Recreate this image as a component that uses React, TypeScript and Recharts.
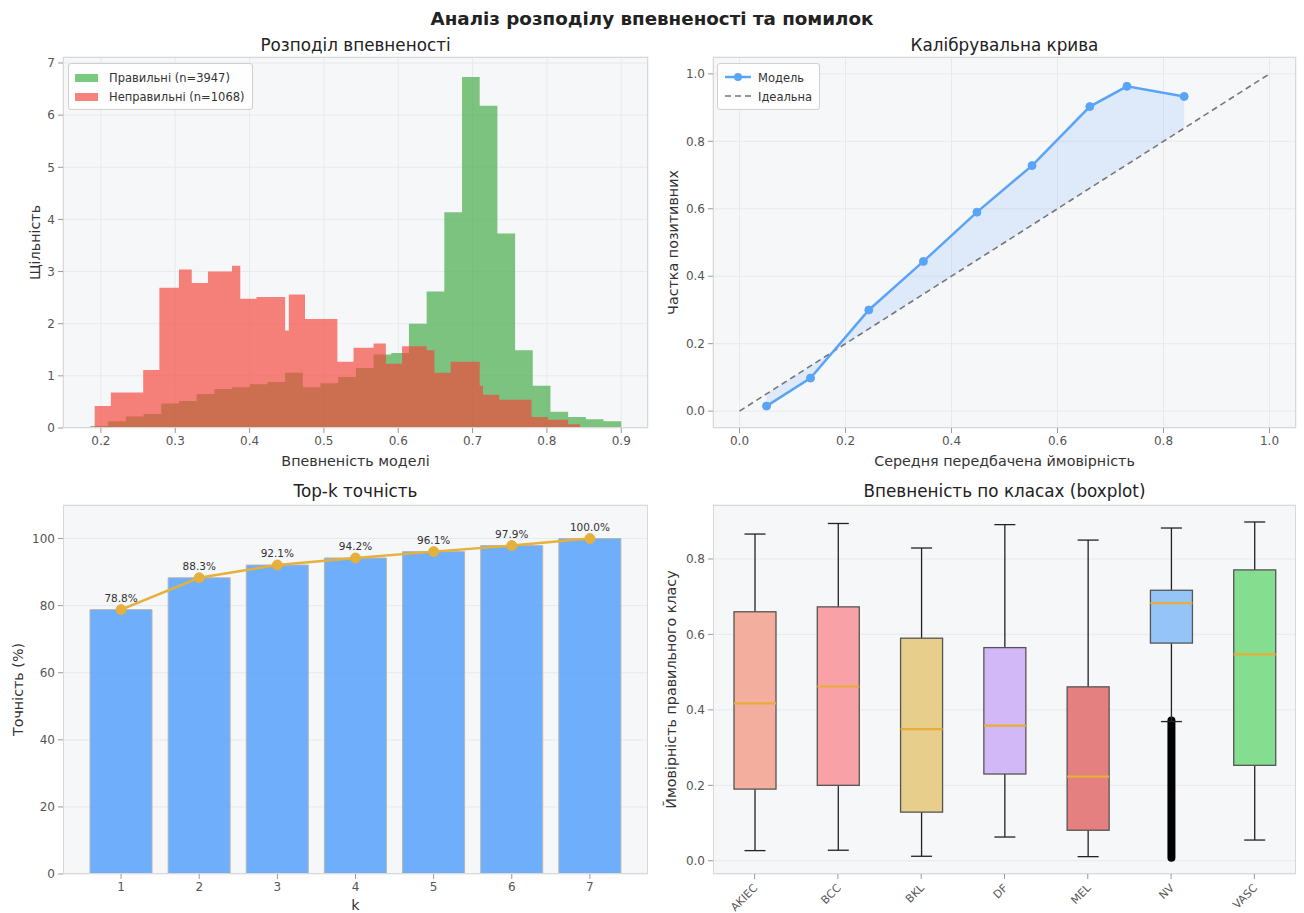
import React from 'react';
import {
  Area,
  AreaChart,
  Bar,
  CartesianGrid,
  ComposedChart,
  LabelList,
  Line,
  XAxis,
  YAxis,
} from 'recharts';

const FONT = '"DejaVu Sans", Verdana, sans-serif';
const TICK = { fontSize: 12, fill: '#555', fontFamily: FONT };
const AXIS_TITLE = { fontSize: 14.3, fill: '#333', fontFamily: FONT };
const GRID = '#e8e9ec';
const PANEL_BG = '#f6f7f9';

// histogram: density per bin, 30 equal bins between range ends
const correctRange = [0.186, 0.9];
const correctDensity = [
  0.04, 0.13, 0.22, 0.27, 0.47, 0.52, 0.65, 0.75, 0.78, 0.84, 0.88, 1.06, 0.78, 0.86, 0.98,
  1.15, 1.41, 1.44, 2.0, 2.62, 4.14, 6.73, 6.18, 3.73, 1.49, 0.81, 0.31, 0.21, 0.17, 0.13,
];
const wrongRange = [0.1916, 0.8446];
const wrongDensity = [
  0.42, 0.68, 1.32, 1.11, 2.69, 3.04, 2.78, 3.0, 3.11, 2.48, 2.51, 1.87, 2.56, 2.09, 2.13,
  1.27, 1.54, 1.62, 1.23, 1.57, 1.49, 1.06, 1.27, 0.81, 0.64, 0.54, 0.21, 0.21, 0.16, 0.07,
];
const confTicks = [0.2, 0.3, 0.4, 0.5, 0.6, 0.7, 0.8, 0.9];
const densityTicks = [0, 1, 2, 3, 4, 5, 6, 7];

// calibration curve
const probPred = [0.051, 0.134, 0.244, 0.347, 0.448, 0.552, 0.661, 0.731, 0.839];
const probTrue = [0.015, 0.098, 0.3, 0.444, 0.59, 0.728, 0.903, 0.963, 0.933];
const unitTicks = [0, 0.2, 0.4, 0.6, 0.8, 1.0];

// top-k accuracy
const kLabels = ['1', '2', '3', '4', '5', '6', '7'];
const topkAcc = [78.8, 88.3, 92.1, 94.2, 96.1, 97.9, 100.0];
const accTicks = [0, 20, 40, 60, 80, 100];

// per-class boxplot
const classes = ['AKIEC', 'BCC', 'BKL', 'DF', 'MEL', 'NV', 'VASC'];
const whiskerLow = [0.027, 0.028, 0.012, 0.063, 0.011, 0.369, 0.055];
const q1 = [0.19, 0.2, 0.129, 0.23, 0.081, 0.577, 0.253];
const medians = [0.417, 0.462, 0.349, 0.358, 0.223, 0.683, 0.547];
const q3 = [0.66, 0.673, 0.59, 0.565, 0.461, 0.717, 0.771];
const whiskerHigh = [0.866, 0.894, 0.829, 0.891, 0.85, 0.882, 0.898];
const outlierLow = [null, null, null, null, null, 0.008, null];
const outlierHigh = [null, null, null, null, null, 0.372, null];
const probTicks = [0, 0.2, 0.4, 0.6, 0.8];

const boxColors = ['#f3ae9e', '#f8a1a6', '#e7ce8b', '#d3b8f8', '#e48080', '#95c4f9', '#85de90'];

function stepAt(x: number, range: number[], vals: number[]) {
  const w = (range[1] - range[0]) / vals.length;
  if (x < range[0] - 1e-6 || x > range[1] + 1e-6) return null;
  if (x >= range[1] - 1e-6) return 0;
  const i = Math.min(vals.length - 1, Math.floor((x - range[0]) / w + 1e-6));
  return vals[i];
}

function edges(range: number[], n: number) {
  const w = (range[1] - range[0]) / n;
  return Array.from({ length: n + 1 }, (_, i) => +(range[0] + i * w).toFixed(6));
}

const histXs = Array.from(
  new Set([...edges(correctRange, correctDensity.length), ...edges(wrongRange, wrongDensity.length)]),
).sort((a, b) => a - b);
const histRows = histXs.map((x) => ({
  x,
  correct: stepAt(x, correctRange, correctDensity),
  wrong: stepAt(x, wrongRange, wrongDensity),
}));

const calibRows = [
  { x: 0, ideal: 0 },
  ...probPred.map((p, i) => ({ x: p, ideal: p, model: probTrue[i], gap: [p, probTrue[i]] })),
  { x: 1, ideal: 1 },
];

const topkRows = kLabels.map((k, i) => ({ k, acc: topkAcc[i] }));

const boxRows = classes.map((cls, i) => ({
  cls,
  range: [whiskerLow[i], whiskerHigh[i]],
  low: whiskerLow[i],
  q1: q1[i],
  median: medians[i],
  q3: q3[i],
  high: whiskerHigh[i],
  outLow: outlierLow[i],
  outHigh: outlierHigh[i],
}));

function BoxShape(props: any) {
  const { x, y, width, height, payload, index } = props;
  const { low, high } = payload;
  const py = (v: number) => y + (height * (high - v)) / (high - low);
  const cx = x + width / 2;
  const cap = width / 4;
  const edge = '#555';
  return (
    <g>
      {payload.outLow != null && (
        <line
          x1={cx}
          x2={cx}
          y1={py(payload.outLow)}
          y2={py(payload.outHigh)}
          stroke="#000"
          strokeWidth={8}
          strokeLinecap="round"
        />
      )}
      <line x1={cx} x2={cx} y1={py(high)} y2={py(payload.q3)} stroke="#222" strokeWidth={1.3} />
      <line x1={cx} x2={cx} y1={py(payload.q1)} y2={py(low)} stroke="#222" strokeWidth={1.3} />
      <line x1={cx - cap} x2={cx + cap} y1={py(high)} y2={py(high)} stroke="#222" strokeWidth={1.3} />
      <line x1={cx - cap} x2={cx + cap} y1={py(low)} y2={py(low)} stroke="#222" strokeWidth={1.3} />
      <rect
        x={x}
        y={py(payload.q3)}
        width={width}
        height={py(payload.q1) - py(payload.q3)}
        fill={boxColors[index]}
        stroke={edge}
        strokeWidth={1.3}
      />
      <line
        x1={x}
        x2={x + width}
        y1={py(payload.median)}
        y2={py(payload.median)}
        stroke="#e8ad38"
        strokeWidth={2.2}
      />
    </g>
  );
}

function RotatedTick({ x, y, payload }: any) {
  const ax = x - 1;
  const ay = y + 3;
  return (
    <text
      x={ax}
      y={ay}
      dy="0.6em"
      transform={`rotate(-45 ${ax} ${ay})`}
      textAnchor="end"
      fontSize={11}
      fill="#555"
      fontFamily={FONT}
    >
      {payload.value}
    </text>
  );
}

function PctLabel({ x, y, value }: any) {
  return (
    <text x={x} y={y - 8} textAnchor="middle" fontSize={10.5} fill="#333" fontFamily={FONT}>
      {`${Number(value).toFixed(1)}%`}
    </text>
  );
}

function Title({ left, top, width, text, bold, size }: any) {
  return (
    <div
      style={{
        position: 'absolute',
        left,
        top,
        width,
        textAlign: 'center',
        fontFamily: FONT,
        fontSize: size,
        fontWeight: bold ? 700 : 400,
        color: '#222',
        lineHeight: `${size + 4}px`,
        whiteSpace: 'nowrap',
      }}
    >
      {text}
    </div>
  );
}

function Frame({ left, top, width, height }: any) {
  return (
    <div
      style={{
        position: 'absolute',
        left,
        top,
        width,
        height,
        boxSizing: 'border-box',
        border: '1px solid #d8d8d8',
        pointerEvents: 'none',
      }}
    />
  );
}

function LegendBox({ left, top, children }: any) {
  return (
    <div
      style={{
        position: 'absolute',
        left,
        top,
        padding: '4px 7px 3px 6px',
        background: 'rgba(255,255,255,0.85)',
        border: '1px solid #d0d0d0',
        borderRadius: 3,
        fontFamily: FONT,
        fontSize: 11.5,
        color: '#333',
      }}
    >
      {children}
    </div>
  );
}

function LegendRow({ mark, label }: any) {
  return (
    <div style={{ display: 'flex', alignItems: 'center', height: 19 }}>
      <span style={{ display: 'inline-block', width: 30 }}>{mark}</span>
      <span style={{ marginLeft: 4 }}>{label}</span>
    </div>
  );
}

export default function App() {
  return (
    <div
      style={{
        position: 'absolute',
        left: 0,
        top: 0,
        width: 1304,
        height: 913,
        background: '#fff',
        overflow: 'hidden',
      }}
    >
      <Title left={0} top={8} width={1304} size={18.3} bold text="Аналіз розподілу впевненості та помилок" />
      <Title left={63} top={35} width={585} size={16.8} text="Розподіл впевненості" />
      <Title left={713} top={35} width={583} size={16.8} text="Калібрувальна крива" />
      <Title left={63} top={481} width={585} size={16.8} text="Top-k точність" />
      <Title left={713} top={481} width={583} size={16.8} text="Впевненість по класах (boxplot)" />

      {/* confidence histogram */}
      <div style={{ position: 'absolute', left: 0, top: 40 }}>
        <AreaChart width={660} height={440} data={histRows} margin={{ top: 17, right: 12, bottom: 0, left: 0 }}>
          <CartesianGrid stroke={GRID} fill={PANEL_BG} fillOpacity={1} />
          <XAxis
            type="number"
            dataKey="x"
            domain={[0.149, 0.936]}
            ticks={confTicks}
            interval={0}
            allowDataOverflow
            tick={TICK}
            tickFormatter={(v: number) => v.toFixed(1)}
            tickLine={{ stroke: '#999' }}
            axisLine={false}
            tickSize={5}
            tickMargin={3}
            height={52}
            label={{ value: 'Впевненість моделі', position: 'insideBottom', offset: 14, style: AXIS_TITLE }}
          />
          <YAxis
            type="number"
            domain={[0, 7.115]}
            ticks={densityTicks}
            interval={0}
            allowDataOverflow
            tick={TICK}
            tickLine={{ stroke: '#999' }}
            axisLine={false}
            tickSize={5}
            tickMargin={3}
            width={63}
            label={{
              value: 'Щільність',
              angle: -90,
              position: 'insideLeft',
              offset: 35,
              style: { ...AXIS_TITLE, textAnchor: 'middle' },
            }}
          />
          <Area
            type="stepAfter"
            dataKey="correct"
            stroke="none"
            fill="#4caf50"
            fillOpacity={0.72}
            isAnimationActive={false}
          />
          <Area
            type="stepAfter"
            dataKey="wrong"
            stroke="none"
            fill="#f44336"
            fillOpacity={0.66}
            isAnimationActive={false}
          />
        </AreaChart>
      </div>
      <Frame left={63} top={57} width={585} height={371} />
      <LegendBox left={68} top={63}>
        <LegendRow
          mark={<span style={{ display: 'block', width: 23, height: 8, background: '#79c97e' }} />}
          label="Правильні (n=3947)"
        />
        <LegendRow
          mark={<span style={{ display: 'block', width: 23, height: 8, background: '#f6837b' }} />}
          label="Неправильні (n=1068)"
        />
      </LegendBox>

      {/* calibration curve */}
      <div style={{ position: 'absolute', left: 652, top: 40 }}>
        <ComposedChart width={652} height={440} data={calibRows} margin={{ top: 17, right: 8, bottom: 0, left: 0 }}>
          <CartesianGrid stroke={GRID} fill={PANEL_BG} fillOpacity={1} />
          <XAxis
            type="number"
            dataKey="x"
            domain={[-0.05, 1.05]}
            ticks={unitTicks}
            interval={0}
            allowDataOverflow
            tick={TICK}
            tickFormatter={(v: number) => v.toFixed(1)}
            tickLine={{ stroke: '#999' }}
            axisLine={false}
            tickSize={5}
            tickMargin={3}
            height={52}
            label={{
              value: 'Середня передбачена ймовірність',
              position: 'insideBottom',
              offset: 14,
              style: AXIS_TITLE,
            }}
          />
          <YAxis
            type="number"
            domain={[-0.05, 1.05]}
            ticks={unitTicks}
            interval={0}
            allowDataOverflow
            tick={TICK}
            tickFormatter={(v: number) => v.toFixed(1)}
            tickLine={{ stroke: '#999' }}
            axisLine={false}
            tickSize={5}
            tickMargin={3}
            width={61}
            label={{
              value: 'Частка позитивних',
              angle: -90,
              position: 'insideLeft',
              offset: 21,
              style: { ...AXIS_TITLE, textAnchor: 'middle' },
            }}
          />
          <Area
            type="linear"
            dataKey="gap"
            stroke="none"
            fill="#5aa4f8"
            fillOpacity={0.15}
            isAnimationActive={false}
          />
          <Line
            type="linear"
            dataKey="ideal"
            stroke="#777"
            strokeWidth={1.6}
            strokeDasharray="6 4"
            dot={false}
            isAnimationActive={false}
          />
          <Line
            type="linear"
            dataKey="model"
            stroke="#5aa4f8"
            strokeWidth={2.5}
            dot={{ r: 4, fill: '#5aa4f8', stroke: '#5aa4f8', strokeWidth: 1 }}
            isAnimationActive={false}
          />
        </ComposedChart>
      </div>
      <Frame left={713} top={57} width={583} height={371} />
      <LegendBox left={717} top={63}>
        <LegendRow
          mark={
            <svg width={28} height={10}>
              <line x1={1} x2={27} y1={5} y2={5} stroke="#5aa4f8" strokeWidth={2.5} />
              <circle cx={14} cy={5} r={4} fill="#5aa4f8" />
            </svg>
          }
          label="Модель"
        />
        <LegendRow
          mark={
            <svg width={28} height={10}>
              <line x1={1} x2={27} y1={5} y2={5} stroke="#777" strokeWidth={1.6} strokeDasharray="6 4" />
            </svg>
          }
          label="Ідеальна"
        />
      </LegendBox>

      {/* top-k accuracy */}
      <div style={{ position: 'absolute', left: 0, top: 486 }}>
        <ComposedChart width={660} height={427} data={topkRows} margin={{ top: 19, right: 12, bottom: 0, left: 0 }}>
          <CartesianGrid stroke={GRID} fill={PANEL_BG} fillOpacity={1} vertical={false} />
          <XAxis
            dataKey="k"
            padding={{ left: 19, right: 19 }}
            tick={TICK}
            tickLine={{ stroke: '#999' }}
            axisLine={false}
            tickSize={5}
            tickMargin={3}
            height={39}
            label={{ value: 'k', position: 'insideBottom', offset: 3, style: AXIS_TITLE }}
          />
          <YAxis
            type="number"
            domain={[0, 110]}
            ticks={accTicks}
            interval={0}
            allowDataOverflow
            tick={TICK}
            tickLine={{ stroke: '#999' }}
            axisLine={false}
            tickSize={5}
            tickMargin={3}
            width={63}
            label={{
              value: 'Точність (%)',
              angle: -90,
              position: 'insideLeft',
              offset: 18,
              style: { ...AXIS_TITLE, textAnchor: 'middle' },
            }}
          />
          <Bar
            dataKey="acc"
            barSize={62}
            fill="#60a5fa"
            fillOpacity={0.9}
            stroke="#b5b5b5"
            strokeWidth={1}
            isAnimationActive={false}
          />
          <Line
            type="linear"
            dataKey="acc"
            stroke="#e6b03c"
            strokeWidth={2.5}
            dot={{ r: 5, fill: '#e6b03c', stroke: '#e6b03c', strokeWidth: 1 }}
            isAnimationActive={false}
          >
            <LabelList dataKey="acc" content={<PctLabel />} />
          </Line>
        </ComposedChart>
      </div>
      <Frame left={63} top={505} width={585} height={369} />

      {/* per-class boxplot */}
      <div style={{ position: 'absolute', left: 652, top: 486 }}>
        <ComposedChart width={652} height={427} data={boxRows} margin={{ top: 19, right: 8, bottom: 0, left: 0 }}>
          <CartesianGrid stroke={GRID} fill={PANEL_BG} fillOpacity={1} vertical={false} />
          <XAxis
            dataKey="cls"
            interval={0}
            tick={<RotatedTick />}
            tickLine={{ stroke: '#999' }}
            axisLine={false}
            tickSize={5}
            height={39}
          />
          <YAxis
            type="number"
            domain={[-0.035, 0.943]}
            ticks={probTicks}
            interval={0}
            allowDataOverflow
            tick={TICK}
            tickFormatter={(v: number) => v.toFixed(1)}
            tickLine={{ stroke: '#999' }}
            axisLine={false}
            tickSize={5}
            tickMargin={3}
            width={61}
            label={{
              value: 'Ймовірність правильного класу',
              angle: -90,
              position: 'insideLeft',
              offset: 19,
              style: { ...AXIS_TITLE, textAnchor: 'middle' },
            }}
          />
          <Bar dataKey="range" barSize={42} shape={<BoxShape />} isAnimationActive={false} />
        </ComposedChart>
      </div>
      <Frame left={713} top={505} width={583} height={369} />
    </div>
  );
}
